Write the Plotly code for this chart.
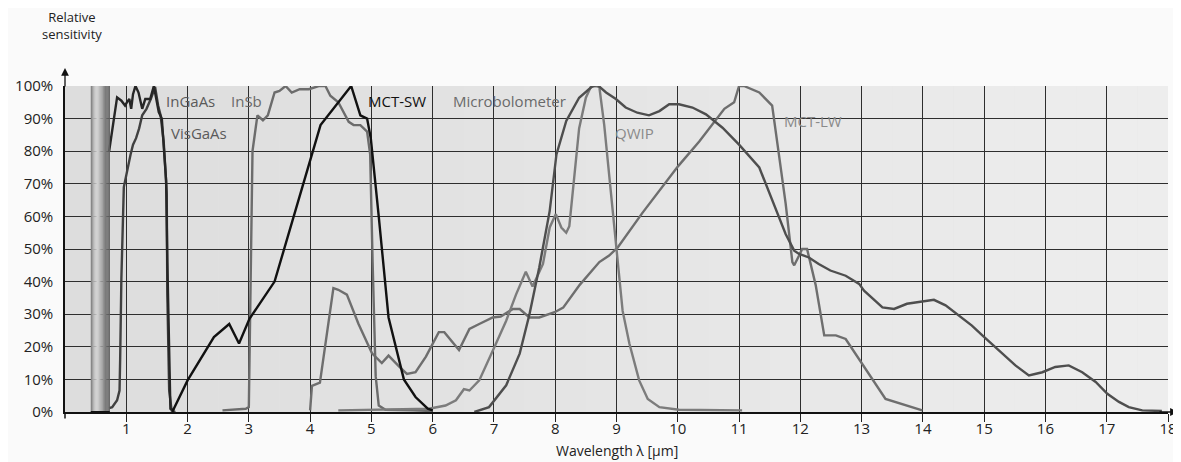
import plotly.graph_objects as go

# ---------------- data ----------------
visgaas_x = [0.72, 0.85, 0.92, 0.98, 1.01, 1.05, 1.08, 1.11, 1.15, 1.20, 1.26, 1.31, 1.39, 1.45, 1.49, 1.53, 1.58, 1.62, 1.65, 1.67, 1.70, 1.72, 1.78]
visgaas_y = [80, 96.5, 95.5, 94, 95, 96, 93, 97.5, 100, 98, 93, 96, 96, 100, 96, 92, 90, 80, 71, 46, 16, 1, 0.5]

ingaas_x = [0.72, 0.77, 0.85, 0.89, 0.90, 0.92, 0.96, 1.01, 1.07, 1.11, 1.16, 1.21, 1.26, 1.33, 1.40, 1.47, 1.52, 1.56, 1.61, 1.64, 1.66, 1.67, 1.70, 1.74, 1.80]
ingaas_y = [1.2, 1.5, 3.6, 6.6, 16, 41, 69, 74, 79, 82, 84, 87, 91, 93, 96, 99.7, 94, 91, 83, 74, 67, 36, 6.6, 0.5, 0]

insb_x = [2.57, 2.95, 3.00, 3.03, 3.06, 3.14, 3.23, 3.31, 3.42, 3.50, 3.60, 3.70, 3.83, 3.98, 4.14, 4.25, 4.33, 4.46, 4.63, 4.71, 4.82, 4.93, 4.98, 5.02, 5.07, 5.12, 5.23, 5.67, 6.0]
insb_y = [0.5, 1, 1.5, 40, 80, 91, 89.5, 91, 98, 98.5, 100, 98, 99, 99, 100, 100, 97, 95, 89, 88, 88, 86, 79, 46, 11, 2, 0.7, 0.5, 0.3]

mctsw_x = [1.75, 2.0, 2.43, 2.68, 2.84, 3.01, 3.42, 4.17, 4.67, 4.82, 4.93, 4.99, 5.12, 5.28, 5.53, 5.72, 5.92, 6.0]
mctsw_y = [0, 9.7, 23, 27, 21, 28.6, 40, 88, 100, 91, 90, 84, 60, 29, 10, 4.6, 1, 0.5]

mctlw_x = [4.0, 4.03, 4.16, 4.38, 4.46, 4.60, 4.79, 5.01, 5.17, 5.28, 5.45, 5.58, 5.72, 5.89, 6.10, 6.19, 6.43, 6.60, 6.76, 6.98, 7.11, 7.31, 7.42, 7.58, 7.74, 7.99, 8.13, 8.40, 8.72, 8.88, 9.02, 9.42, 10.01, 10.35, 10.76, 10.92, 11.0, 11.08, 11.33, 11.54, 11.65, 11.76, 11.87, 11.90, 11.98, 12.03, 12.11, 12.25, 12.39, 12.58, 12.74, 12.96, 13.39, 13.99]
mctlw_y = [0.5, 8, 9, 38, 37.5, 36, 27, 18, 15, 17.3, 14, 11.7, 12.2, 17, 24.5, 24.5, 19, 25.5, 27, 29, 29.3, 31.6, 31.6, 29, 29, 30.6, 32, 39, 46, 48, 50.5, 61, 75.5, 83, 93, 95, 100, 100, 98, 94, 79, 64, 46, 45, 48, 50, 50, 39, 23.5, 23.5, 22.4, 16.3, 4, 0.5]

qwip_x = [4.46, 5.94, 6.21, 6.38, 6.51, 6.60, 6.76, 6.90, 7.01, 7.20, 7.36, 7.52, 7.63, 7.80, 7.91, 8.01, 8.10, 8.18, 8.23, 8.31, 8.39, 8.50, 8.58, 8.66, 8.72, 8.80, 8.91, 8.99, 9.10, 9.21, 9.37, 9.51, 9.70, 10.02, 11.05]
qwip_y = [0.5, 1, 2, 3.6, 7, 6.6, 9.7, 15.3, 20, 28, 36, 43, 38.5, 45.4, 56.6, 60.7, 56.6, 55, 57, 72, 87, 96.4, 99.7, 100, 99.7, 88, 67, 50.5, 31, 21, 9.7, 4, 1.5, 0.7, 0.5]

micro_x = [6.68, 6.92, 7.20, 7.42, 7.58, 7.74, 7.91, 8.02, 8.18, 8.34, 8.39, 8.61, 8.69, 8.83, 8.99, 9.15, 9.34, 9.53, 9.70, 9.86, 10.02, 10.24, 10.46, 10.73, 11.0, 11.33, 11.54, 11.76, 11.90, 11.98, 12.14, 12.30, 12.49, 12.74, 12.96, 13.04, 13.34, 13.53, 13.74, 13.99, 14.18, 14.37, 14.59, 14.80, 14.97, 15.24, 15.51, 15.73, 15.95, 16.16, 16.38, 16.60, 16.82, 17.01, 17.20, 17.36, 17.58, 17.90]
micro_y = [0, 1.5, 8.2, 17.9, 30, 44.4, 61.7, 79, 89.3, 94.4, 96.4, 100, 100.3, 98, 96, 93.4, 91.8, 91, 92.3, 94.4, 94.4, 93.4, 91.3, 87.2, 82, 75, 64.8, 54.6, 49.5, 48.5, 47.4, 45.4, 43.4, 41.8, 39.3, 37.2, 32.1, 31.6, 33.2, 34, 34.4, 32.7, 29.6, 26.5, 23.5, 18.9, 14.3, 11.2, 12.2, 13.8, 14.3, 12.2, 9.2, 5.6, 3.1, 1.5, 0.5, 0.3]

x_ticks = list(range(1, 19))
y_ticks = list(range(0, 101, 10))
y_ticktext = [f"{v}%" for v in y_ticks]

labels = ["InGaAs", "InSb", "VisGaAs", "MCT-SW", "Microbolometer", "QWIP", "MCT-LW"]
label_x = [2.05, 2.96, 2.19, 5.41, 7.26, 9.30, 12.21]
label_y = [95.3, 95.3, 85.5, 95.3, 95.3, 85.7, 89.3]
label_colors = ["#5a5a5a", "#6a6a6a", "#5a5a5a", "#111111", "#6a6a6a", "#8a8a8a", "#8a8a8a"]

FONT = "Open Sans"

fig = go.Figure()

series = [
    (ingaas_x, ingaas_y, "#404040"),
    (visgaas_x, visgaas_y, "#262626"),
    (insb_x, insb_y, "#6c6c6c"),
    (mctlw_x, mctlw_y, "#6e6e6e"),
    (qwip_x, qwip_y, "#7c7c7c"),
    (micro_x, micro_y, "#4e4e4e"),
    (mctsw_x, mctsw_y, "#111111"),
]
for xs, ys, col in series:
    fig.add_trace(go.Scatter(x=xs, y=ys, mode="lines",
                             line=dict(color=col, width=2.4), showlegend=False,
                             hoverinfo="skip"))

shapes = []
# background gradient of plot area
n = 36
for i in range(n):
    t = i / (n - 1)
    g = int(round(221 + (237 - 221) * t))
    shapes.append(dict(type="rect", xref="x", yref="y", x0=18 * i / n, x1=18 * (i + 1) / n,
                       y0=0, y1=100, fillcolor=f"rgb({g},{g},{g})", line=dict(width=0),
                       layer="below"))

# shaded cylinder bar (visible range)
bx0, bx1 = 0.42, 0.73
prof = [(0.0, 120), (0.12, 170), (0.3, 215), (0.42, 200), (0.6, 160), (0.8, 120), (1.0, 95)]
m = 16
for i in range(m):
    t = (i + 0.5) / m
    for (a, ga), (b, gb) in zip(prof[:-1], prof[1:]):
        if a <= t <= b:
            g = int(ga + (gb - ga) * (t - a) / (b - a))
            break
    shapes.append(dict(type="rect", xref="x", yref="y",
                       x0=bx0 + (bx1 - bx0) * i / m, x1=bx0 + (bx1 - bx0) * (i + 1) / m + 0.003,
                       y0=0, y1=100, fillcolor=f"rgb({g},{g},{g})", line=dict(width=0),
                       layer="above"))
shapes.append(dict(type="line", xref="x", yref="y", x0=bx0, x1=bx1, y0=0, y1=0,
                   line=dict(color="#111", width=2), layer="above"))
# y axis stub below zero
shapes.append(dict(type="line", xref="paper", yref="paper", x0=0, x1=0, y0=0, y1=-0.02,
                   line=dict(color="#111", width=1.5)))

annotations = []
for txt, lx, ly, lc in zip(labels, label_x, label_y, label_colors):
    annotations.append(dict(x=lx, y=ly, xref="x", yref="y", text=txt, showarrow=False,
                            font=dict(family=FONT, size=15, color=lc),
                            xanchor="center", yanchor="middle"))

annotations.append(dict(xref="paper", yref="paper", x=0.006, y=1.185,
                        text="Relative<br>sensitivity", showarrow=False, align="center",
                        borderpad=0,
                        font=dict(family=FONT, size=13, color="#222"),
                        xanchor="center", yanchor="middle"))
annotations.append(dict(xref="paper", yref="paper", x=0.5, y=-0.117,
                        text="Wavelength λ [µm]", showarrow=False,
                        font=dict(family=FONT, size=14, color="#222"),
                        xanchor="center", yanchor="middle"))
# axis arrows
annotations.append(dict(xref="paper", yref="paper", x=0, y=1.055, ax=0, ay=20,
                        axref="pixel", ayref="pixel", showarrow=True, arrowhead=2,
                        arrowsize=1.2, arrowwidth=1.3, arrowcolor="#111", text=""))
annotations.append(dict(xref="paper", yref="paper", x=1.009, y=0, ax=-20, ay=0,
                        axref="pixel", ayref="pixel", showarrow=True, arrowhead=2,
                        arrowsize=1.2, arrowwidth=1.3, arrowcolor="#111", text=""))

fig.update_layout(
    width=1173, height=454,
    margin=dict(l=57, r=13, t=78, b=50, autoexpand=False),
    paper_bgcolor="#fafafa",
    plot_bgcolor="#e4e4e4",
    shapes=shapes,
    annotations=annotations,
    font=dict(family=FONT, size=15, color="#222"),
    xaxis=dict(range=[0, 18], tickvals=x_ticks, ticks="outside", ticklen=8,
               tickcolor="#222", tickwidth=1, showgrid=True, gridcolor="#2e2e2e",
               gridwidth=1, zeroline=False, showline=True, linecolor="#111",
               linewidth=1.5, mirror=False, ticklabelstandoff=-6, automargin=False,
               tickfont=dict(family=FONT, size=15, color="#222")),
    yaxis=dict(range=[0, 100], tickvals=y_ticks, ticktext=y_ticktext, ticks="",
               showgrid=True, gridcolor="#2e2e2e", gridwidth=1, zeroline=False,
               showline=True, linecolor="#111", linewidth=1.5, automargin=False,
               tickfont=dict(family=FONT, size=15, color="#222"), ticklabelstandoff=7),
)

fig.write_html("out.html")
